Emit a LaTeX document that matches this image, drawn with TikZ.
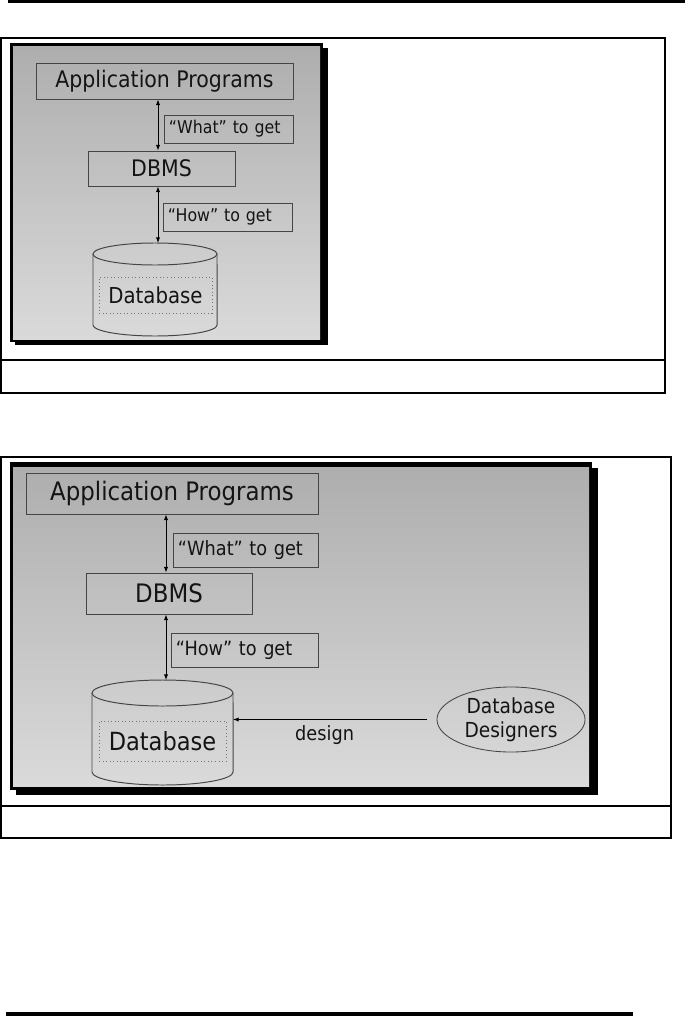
\documentclass[tikz,border=0pt]{standalone}
\usepackage{fontspec}
\usetikzlibrary{arrows.meta,positioning,shapes.geometric}
\newfontfamily\slidefont{DejaVu Sans Condensed}
\definecolor{SlideTop}{HTML}{AEAEAE}
\definecolor{SlideBot}{HTML}{DADADA}
\definecolor{EdgeGray}{HTML}{454545}
\definecolor{InkDark}{HTML}{141414}
\newcommand{\fBig}{\slidefont\fontsize{16.2pt}{19pt}\selectfont}
\newcommand{\fLab}{\slidefont\fontsize{12.5pt}{15pt}\selectfont}
\newcommand{\fDbA}{\slidefont\fontsize{15.6pt}{18pt}\selectfont}
\newcommand{\fHuge}{\slidefont\fontsize{18.1pt}{21pt}\selectfont}
\newcommand{\fLabB}{\slidefont\fontsize{14pt}{17pt}\selectfont}
\newcommand{\fDbB}{\slidefont\fontsize{17.8pt}{20pt}\selectfont}
\newcommand{\fEll}{\slidefont\fontsize{14.7pt}{17pt}\selectfont}
\tikzset{
  BX/.style={rectangle,draw=EdgeGray,line width=0.6pt,inner sep=0pt,
             text=InkDark,align=center},
  LB/.style={BX,align=left,inner xsep=0.125cm,inner ysep=0pt},
  DT/.style={rectangle,draw=black!55,dotted,line width=0.5pt,inner sep=0pt,
             text=InkDark},
  EL/.style={ellipse,draw=EdgeGray,line width=0.6pt,inner sep=0pt,
             align=center,text=InkDark},
  CY/.style={draw=EdgeGray,line width=0.7pt},
  FR/.style={draw=black,line width=1.4pt},
  arr/.style={{Latex[length=4pt,width=3pt]}-{Latex[length=4pt,width=3pt]},line width=0.6pt},
  arrL/.style={-{Latex[length=4pt,width=3pt]},line width=0.6pt},
  slide/.style={top color=SlideTop,bottom color=SlideBot,draw=none}
}

\begin{document}
\begin{tikzpicture}[x=0.025cm,y=-0.025cm]
  \useasboundingbox (0,0) rectangle (685,1018);
  \fill[white] (0,0) rectangle (685,1018);

  % page rules
  \draw[line width=2.2pt] (8,1.5) -- (685,1.5);
  \draw[line width=2.2pt] (6,1014) -- (633,1014);

  % first figure frame
  \draw[FR] (1,38) rectangle (665,393);
  \draw[FR] (1,360) -- (665,360);
  \fill[black] (15,48) rectangle (328,345);
  \fill[black] (10,43) rectangle (323,342);
  \shade[slide] (13,47) rectangle (320,339);

  \node[BX,minimum width=6.425cm,minimum height=0.9cm,font=\fBig] (app1) at (164.5,81) {Application Programs};
  \node[LB,text width=2.975cm,minimum height=0.7cm,font=\fLab] (what1) at (228.5,129) {“What” to get};
  \node[BX,minimum width=3.675cm,minimum height=0.875cm,font=\fBig] (dbms1) at (161.5,168.5) {DBMS};
  \node[LB,text width=2.975cm,minimum height=0.7cm,font=\fLab] (how1) at (227.5,217) {“How” to get};

  \draw[CY] (93,254) -- (93,325) arc[start angle=180,end angle=360,x radius=1.55cm,y radius=0.275cm] -- (217,254);
  \draw[CY] (155,254) ellipse[x radius=1.55cm,y radius=0.275cm];
  \coordinate (top1) at (158,243);
  \node[DT,minimum width=2.825cm,minimum height=0.9cm,font=\fDbA] (db1) at (155.5,295) {Database};

  \draw[arr] (app1.south -| top1) -- (dbms1.north -| top1);
  \draw[arr] (dbms1.south -| top1) -- (top1);

  % second figure frame
  \draw[FR] (1,457) rectangle (671,838);
  \draw[FR] (1,806) -- (671,806);
  \fill[black] (16,468) rectangle (598,795);
  \fill[black] (10,462) rectangle (592,790);
  \shade[slide] (13,467) rectangle (589,786);

  \node[BX,minimum width=7.3cm,minimum height=1.025cm,font=\fHuge] (app2) at (172,493.5) {Application Programs};
  \node[LB,text width=3.375cm,minimum height=0.85cm,font=\fLabB] (what2) at (245.5,550) {“What” to get};
  \node[BX,minimum width=4.15cm,minimum height=1.025cm,font=\fHuge] (dbms2) at (169,593.5) {DBMS};
  \node[LB,text width=3.425cm,minimum height=0.85cm,font=\fLabB] (how2) at (244.5,650) {“How” to get};

  \draw[CY] (92,693) -- (92,772) arc[start angle=180,end angle=360,x radius=1.7625cm,y radius=0.325cm] -- (233,693);
  \draw[CY] (162.5,693) ellipse[x radius=1.7625cm,y radius=0.325cm];
  \coordinate (top2) at (166,680);
  \coordinate (side2) at (233,720);
  \node[DT,minimum width=3.175cm,minimum height=1cm,font=\fDbB] (db2) at (162.5,741) {Database};

  \node[EL,minimum width=3.7cm,minimum height=1.625cm,font=\fEll] (dsg) at (511,719.5) {Database\\Designers};

  \draw[arr] (app2.south -| top2) -- (dbms2.north -| top2);
  \draw[arr] (dbms2.south -| top2) -- (top2);
  \draw[arrL,shorten <=0.25cm] (dsg.west) -- (dsg.west -| side2)
    node[pos=0.55,below=1pt,font=\fLabB,text=InkDark] {design};
\end{tikzpicture}
\end{document}
